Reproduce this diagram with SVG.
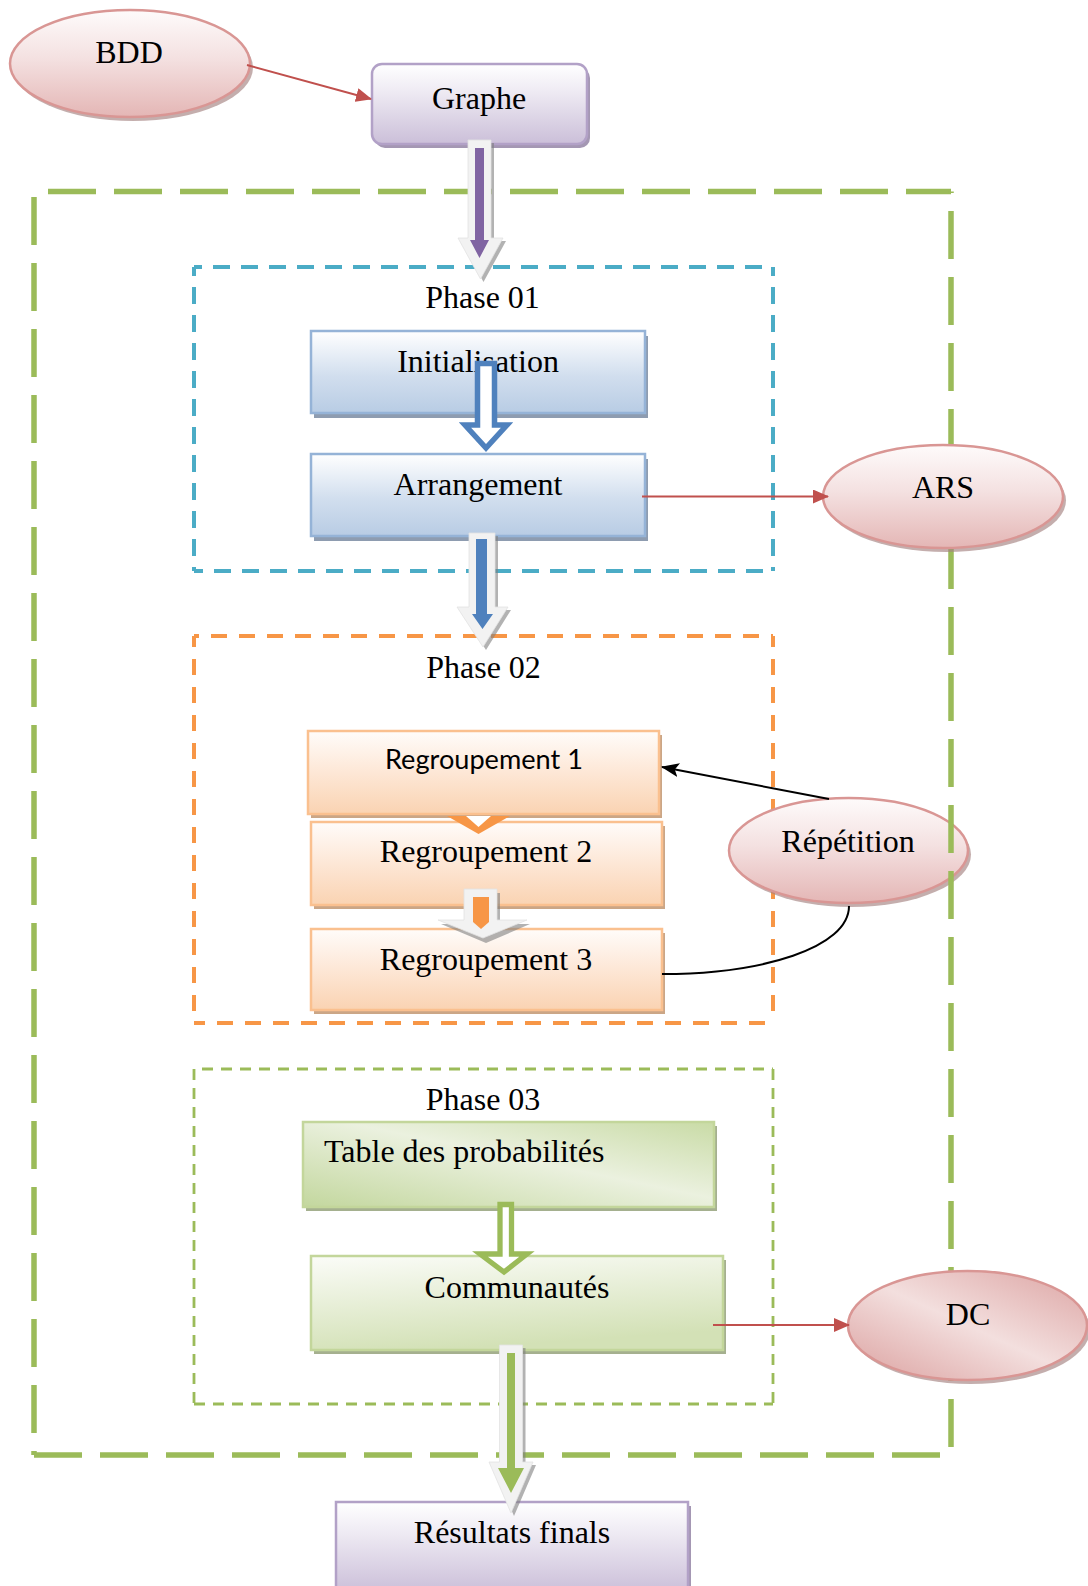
<svg xmlns="http://www.w3.org/2000/svg" width="1088" height="1586" viewBox="0 0 1088 1586">
  <defs>
    <linearGradient id="gPink" x1="0" y1="0" x2="0" y2="1">
      <stop offset="0" stop-color="#fefbfb"/>
      <stop offset="0.45" stop-color="#f4e1e1"/>
      <stop offset="1" stop-color="#e4b6b5"/>
    </linearGradient>
    <linearGradient id="gPinkDiag" x1="0" y1="1" x2="1" y2="0">
      <stop offset="0" stop-color="#dba09f"/>
      <stop offset="0.5" stop-color="#f3dfde"/>
      <stop offset="1" stop-color="#dca3a2"/>
    </linearGradient>
    <linearGradient id="gPurple" x1="0" y1="0" x2="0" y2="1">
      <stop offset="0" stop-color="#ffffff"/>
      <stop offset="0.35" stop-color="#eeeaf3"/>
      <stop offset="1" stop-color="#cbbfd9"/>
    </linearGradient>
    <linearGradient id="gBlue" x1="0" y1="0" x2="0" y2="1">
      <stop offset="0" stop-color="#ffffff"/>
      <stop offset="0.55" stop-color="#d1deee"/>
      <stop offset="1" stop-color="#b8cce4"/>
    </linearGradient>
    <linearGradient id="gOrange" x1="0" y1="0" x2="0" y2="1">
      <stop offset="0" stop-color="#fffcfa"/>
      <stop offset="0.5" stop-color="#fde7d6"/>
      <stop offset="1" stop-color="#fad3b2"/>
    </linearGradient>
    <linearGradient id="gGreenTable" x1="0" y1="1" x2="1" y2="0">
      <stop offset="0" stop-color="#c3d79e"/>
      <stop offset="0.55" stop-color="#ebf1df"/>
      <stop offset="1" stop-color="#c9dba6"/>
    </linearGradient>
    <linearGradient id="gGreenComm" x1="0" y1="0" x2="0.3" y2="1">
      <stop offset="0" stop-color="#fbfcf8"/>
      <stop offset="1" stop-color="#d3e1b6"/>
    </linearGradient>
    <marker id="redHead" viewBox="0 0 16 14" refX="15" refY="7" markerWidth="16" markerHeight="14" markerUnits="userSpaceOnUse" orient="auto">
      <path d="M0,0 L16,7 L0,14 z" fill="#c0504d"/>
    </marker>
    <marker id="blackHead" viewBox="0 0 18 14" refX="17" refY="7" markerWidth="18" markerHeight="14" markerUnits="userSpaceOnUse" orient="auto">
      <path d="M0,0 L18,7 L0,14 L4,7 z" fill="#000"/>
    </marker>
  </defs>
  <style>
    .t { font-family: "Liberation Serif", "Times New Roman", serif; font-size: 32px; fill: #000; text-anchor: middle; }
    .tl { font-family: "Liberation Serif", "Times New Roman", serif; font-size: 32px; fill: #000; text-anchor: start; }
    .ts { font-family: Lato, "Open Sans", sans-serif; font-size: 26px; fill: #000; text-anchor: middle; }
    .ell { stroke: #d99694; stroke-width: 2.5; }
    .esh { fill: #a58281; opacity: 0.65; }
    .boxP { fill: url(#gPurple); stroke: #b2a1c7; stroke-width: 2.5; }
    .boxB { fill: url(#gBlue); stroke: #95b3d7; stroke-width: 2.5; }
    .boxO { fill: url(#gOrange); stroke: #fac08f; stroke-width: 2.5; }
    .boxG { stroke: #c3d69b; stroke-width: 2.5; }
    .shP { fill: #a497b3; }
    .shB { fill: #8e9cb0; }
    .shO { fill: #cba686; }
    .shG { fill: #a5b08f; }
    .cyan { stroke: #4bacc6; stroke-width: 4; stroke-dasharray: 17 11; fill: none; }
    .orng { stroke: #f79646; stroke-width: 4; stroke-dasharray: 16 12; fill: none; }
    .grnT { stroke: #9bbb59; stroke-width: 2.8; stroke-dasharray: 11 8; fill: none; }
    .grnO { stroke: #9bbb59; stroke-width: 5.5; stroke-dasharray: 48 18; fill: none; }
    .red { stroke: #c0504d; stroke-width: 2; fill: none; marker-end: url(#redHead); }
    .blk { stroke: #000; stroke-width: 2; fill: none; }
    .lite { fill: #f2f2f2; stroke: #e2e2e2; stroke-width: 0.8; }
    .ash { fill: #7f7f7f; opacity: 0.6; }
  </style>

  <rect width="1088" height="1586" fill="#ffffff"/>

  <!-- phase frames -->
  <g id="phase01">
    <line class="cyan" x1="194" y1="267" x2="773" y2="267" stroke-dashoffset="9"/>
    <line class="cyan" x1="194" y1="267" x2="194" y2="571" stroke-dashoffset="8"/>
    <line class="cyan" x1="773" y1="267" x2="773" y2="571" stroke-dashoffset="8"/>
    <line class="cyan" x1="194" y1="571" x2="773" y2="571" stroke-dashoffset="8"/>
    <text class="t" x="482.5" y="308">Phase 01</text>
  </g>
  <g id="phase02">
    <line class="orng" x1="194" y1="636" x2="773" y2="636" stroke-dashoffset="11"/>
    <line class="orng" x1="194" y1="636" x2="194" y2="1023" stroke-dashoffset="5"/>
    <line class="orng" x1="773" y1="636" x2="773" y2="1023" stroke-dashoffset="5"/>
    <line class="orng" x1="194" y1="1023" x2="773" y2="1023" stroke-dashoffset="5"/>
    <text class="t" x="483.5" y="678">Phase 02</text>
  </g>
  <g id="phase03">
    <line class="grnT" x1="194" y1="1069" x2="773" y2="1069" stroke-dashoffset="11"/>
    <line class="grnT" x1="194" y1="1069" x2="194" y2="1404"/>
    <line class="grnT" x1="773" y1="1069" x2="773" y2="1404"/>
    <line class="grnT" x1="194" y1="1404" x2="773" y2="1404"/>
    <text class="t" x="483" y="1110">Phase 03</text>
  </g>

  <!-- Répétition sits under the outer frame -->
  <g id="repetition">
    <ellipse class="esh" cx="851.5" cy="854.5" rx="119.5" ry="52.5"/>
    <ellipse class="ell" cx="848.5" cy="850.5" rx="119.5" ry="52.5" fill="url(#gPink)"/>
    <text class="t" x="848" y="852">Répétition</text>
  </g>

  <!-- outer process frame -->
  <g id="process-frame">
    <line class="grnO" x1="34" y1="191.5" x2="951" y2="191.5" stroke-dashoffset="52"/>
    <line class="grnO" x1="34" y1="191.5" x2="34" y2="1455" stroke-dashoffset="60.5"/>
    <line class="grnO" x1="951" y1="191.5" x2="951" y2="1455" stroke-dashoffset="46.5"/>
    <line class="grnO" x1="34" y1="1455" x2="951" y2="1455"/>
  </g>

  <g id="bdd">
    <ellipse class="esh" cx="133" cy="67.5" rx="120" ry="53.5"/>
    <ellipse class="ell" cx="130" cy="63.5" rx="120" ry="53.5" fill="url(#gPink)"/>
    <text class="t" x="129" y="63">BDD</text>
  </g>

  <g id="graphe">
    <rect class="shP" x="375" y="68" width="215" height="80" rx="10"/>
    <rect class="boxP" x="372" y="64" width="215" height="80" rx="10"/>
    <text class="t" x="479" y="109">Graphe</text>
  </g>

  <g id="initialisation">
    <rect class="shB" x="314" y="336" width="334" height="82"/>
    <rect class="boxB" x="311" y="331" width="334" height="82"/>
    <text class="t" x="478" y="372">Initialisation</text>
  </g>

  <g id="arrangement">
    <rect class="shB" x="314" y="459" width="334" height="82"/>
    <rect class="boxB" x="311" y="454" width="334" height="82"/>
    <text class="t" x="478" y="495">Arrangement</text>
  </g>

  <g id="ars">
    <ellipse class="esh" cx="946" cy="500.5" rx="120" ry="51.5"/>
    <ellipse class="ell" cx="943" cy="496.5" rx="120" ry="51.5" fill="url(#gPink)"/>
    <text class="t" x="943" y="498">ARS</text>
  </g>

  <g id="regroupement1">
    <rect class="shO" x="311" y="735" width="351" height="83"/>
    <rect class="boxO" x="308" y="731" width="351" height="83"/>
    <text class="ts" x="484" y="769" textLength="198" lengthAdjust="spacingAndGlyphs">Regroupement 1</text>
  </g>

  <g id="regroupement2">
    <rect class="shO" x="314" y="826" width="351" height="83"/>
    <rect class="boxO" x="311" y="822" width="351" height="83"/>
    <text class="t" x="486" y="862">Regroupement 2</text>
  </g>

  <g id="regroupement3">
    <rect class="shO" x="314" y="933" width="351" height="81"/>
    <rect class="boxO" x="311" y="929" width="351" height="81"/>
    <text class="t" x="486" y="970">Regroupement 3</text>
  </g>

  <g id="table-probabilites">
    <rect class="shG" x="306" y="1126" width="411" height="85"/>
    <rect class="boxG" x="303" y="1122" width="411" height="85" fill="url(#gGreenTable)"/>
    <text class="tl" x="324" y="1162">Table des probabilités</text>
  </g>

  <g id="communautes">
    <rect class="shG" x="314" y="1260" width="412" height="94"/>
    <rect class="boxG" x="311" y="1256" width="412" height="94" fill="url(#gGreenComm)"/>
    <text class="t" x="517" y="1298">Communautés</text>
  </g>

  <g id="dc">
    <ellipse class="esh" cx="970.5" cy="1329.5" rx="119.5" ry="54.5"/>
    <ellipse class="ell" cx="967.5" cy="1325.5" rx="119.5" ry="54.5" fill="url(#gPinkDiag)"/>
    <text class="t" x="968" y="1325">DC</text>
  </g>

  <g id="resultats">
    <rect class="shP" x="339" y="1506" width="352" height="90"/>
    <rect class="boxP" x="336" y="1502" width="352" height="90"/>
    <text class="t" x="512" y="1543">Résultats finals</text>
  </g>

  <!-- connectors -->
  <g id="connectors">
    <!-- Graphe to Phase 01 -->
    <polygon class="ash" points="471,143 494,143 494,241 506,241 483.5,282 461,241 471,241"/>
    <polygon class="lite" points="468,140 491,140 491,238 503,238 480.5,279 458,238 468,238"/>
    <polygon fill="#8064a2" points="475,148 484,148 484,240 489,240 479.5,258 470,240 475,240"/>

    <!-- Initialisation to Arrangement -->
    <polygon fill="#ffffff" stroke="#4f81bd" stroke-width="5.5" points="477.5,363.5 494.5,363.5 494.5,425 507,425 486,448 465,425 477.5,425"/>

    <!-- Arrangement to Phase 02 -->
    <polygon class="ash" points="472,536 498,536 498,610 511,610 486,650 460,610 472,610"/>
    <polygon class="lite" points="469,533 495,533 495,607 508,607 483,647 457,607 469,607"/>
    <polygon fill="#4f81bd" points="476,539 487,539 487,614 493,614 482.5,629 472,614 476,614"/>

    <!-- Regroupement 1 to Regroupement 2 -->
    <polygon fill="#f79646" points="447,816 510,816 478.5,834"/>
    <polygon fill="#ffffff" points="466,816 491,816 478.5,827"/>

    <!-- Regroupement 2 to Regroupement 3 -->
    <polygon class="ash" points="467,893 500,893 500,924 530,924 486,943 441,924 467,924"/>
    <polygon class="lite" points="464,889 497,889 497,920 527,920 483,938 438,920 464,920"/>
    <polygon fill="#f79646" points="473,897 489,897 489,922 481,929 473,922"/>

    <!-- Table des probabilités to Communautés -->
    <polygon fill="#ffffff" stroke="#9bbb59" stroke-width="5.3" points="500,1204.5 511.5,1204.5 511.5,1254 527,1254 504,1272 480,1254 500,1254"/>

    <!-- Communautés to Résultats finals -->
    <polygon class="ash" points="502.5,1348 525.5,1348 525.5,1465 536,1465 514,1516 492,1465 502.5,1465"/>
    <polygon class="lite" points="499.5,1345 522.5,1345 522.5,1462 533,1462 511,1513 489,1462 499.5,1462"/>
    <polygon fill="#9bbb59" points="507,1353 515,1353 515,1468 524,1468 511,1493 498,1468 507,1468"/>

    <!-- side outputs -->
    <line class="red" x1="247" y1="65" x2="371" y2="99"/>
    <line class="red" x1="642" y1="496.5" x2="828" y2="496.5"/>
    <line class="red" x1="713" y1="1325" x2="849" y2="1325"/>

    <!-- repetition loop -->
    <line class="blk" x1="829" y1="799" x2="662" y2="767" marker-end="url(#blackHead)"/>
    <path class="blk" d="M849,906 C849,948 762,974 662,974"/>
  </g>
</svg>
